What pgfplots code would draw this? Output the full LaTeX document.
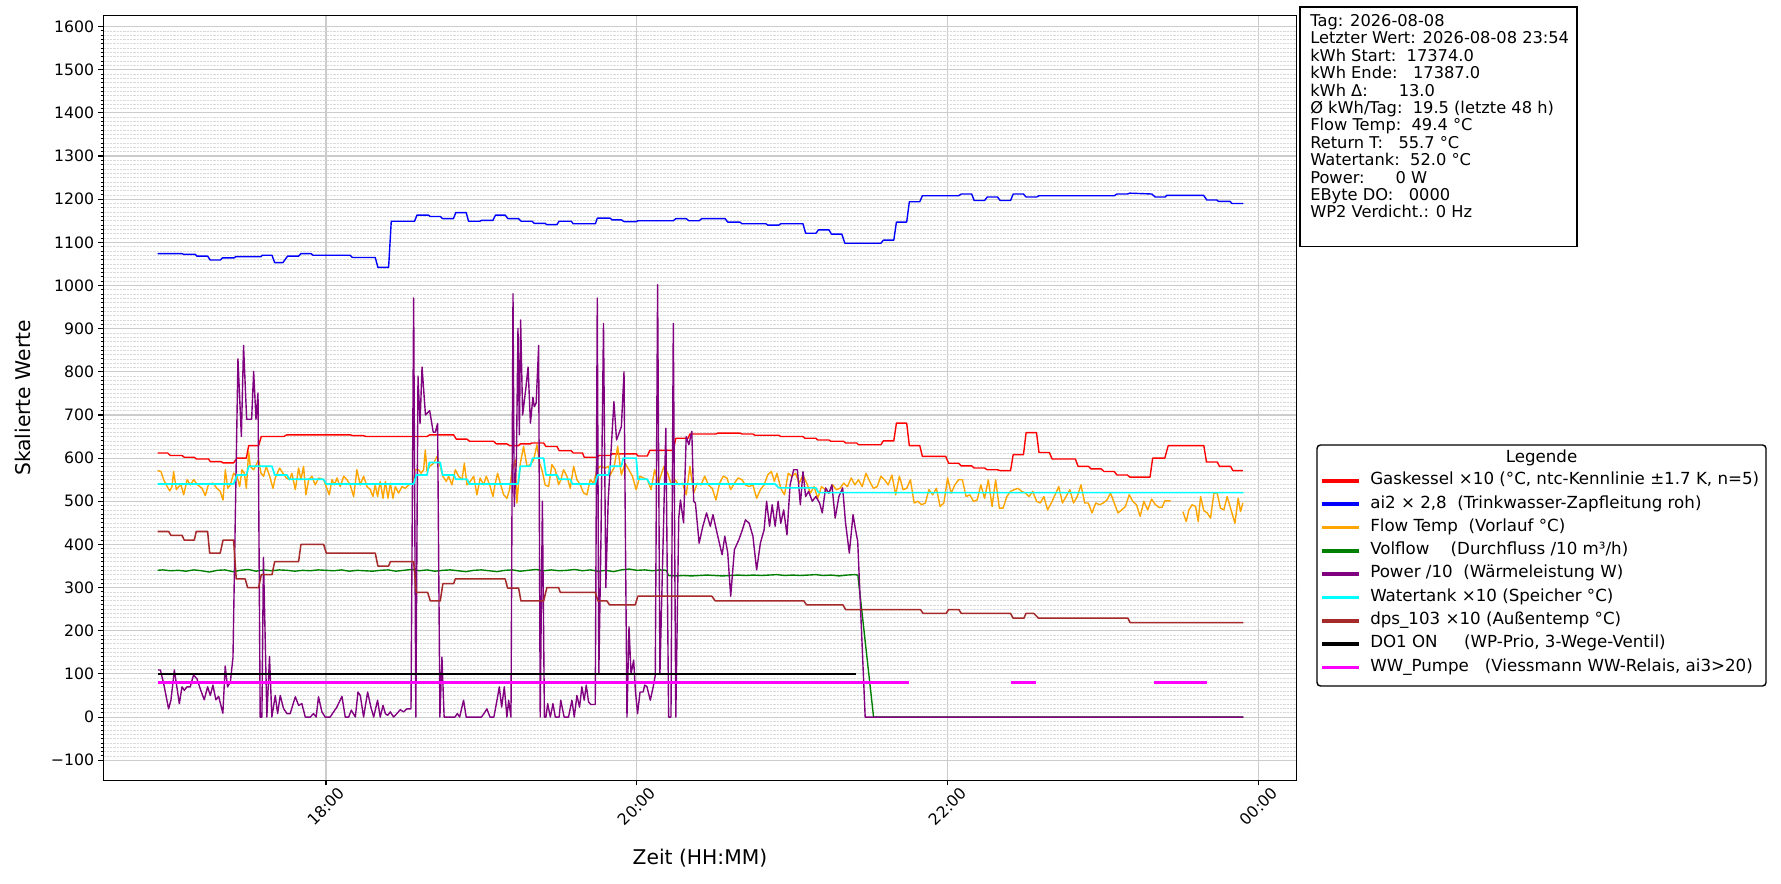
\documentclass[border=0pt]{standalone}
\usepackage{fontspec}
\setmainfont{DejaVu Sans}
\usepackage{pgfplots}
\pgfplotsset{compat=1.18}
\definecolor{cRed}{RGB}{255,0,0}
\definecolor{cBlue}{RGB}{0,0,255}
\definecolor{cOrange}{RGB}{255,165,0}
\definecolor{cGreen}{RGB}{0,128,0}
\definecolor{cPurple}{RGB}{128,0,128}
\definecolor{cCyan}{RGB}{0,255,255}
\definecolor{cBrown}{RGB}{165,42,42}
\definecolor{cMag}{RGB}{255,0,255}
\definecolor{gridmaj}{RGB}{204,204,204}
\definecolor{gridmin}{RGB}{218,218,218}
\begin{document}
\begin{tikzpicture}
\useasboundingbox (0,0) rectangle (1282.32pt,636.48pt);
\begin{axis}[
  at={(74.38pt,74.52pt)}, anchor=south west,
  width=859.2pt, height=550.9pt, scale only axis,
  xmin=16.568, xmax=24.243, ymin=-147, ymax=1626,
  xtick={18,20,22,24}, xticklabels={18:00,20:00,22:00,00:00},
  ytick={-100,0,...,1600},
  yticklabels={−100,0,100,200,300,400,500,600,700,800,900,1000,1100,1200,1300,1400,1500,1600},
  minor y tick num=9,
  xmajorgrids, ymajorgrids, yminorgrids,
  major grid style={color=gridmaj, line width=0.8pt},
  minor grid style={color=gridmin, line width=0.5pt, dash pattern=on 1.6pt off 0.8pt},
  tick pos=left, tick align=outside,
  major tick length=3.5pt, minor tick length=2pt,
  every tick/.style={black, line width=0.8pt},
  minor tick style={line width=0.6pt},
  axis line style={black, line width=1pt},
  tick label style={font=\fontsize{11.3}{13}\selectfont},
  yticklabel style={anchor=east, inner sep=0pt, xshift=-3pt},
  xticklabel style={yshift=-15pt, rotate=45, anchor=center, inner sep=0pt},
  xlabel={Zeit (HH:MM)}, ylabel={Skalierte Werte},
  label style={font=\fontsize{14.6}{17}\selectfont},
  xlabel style={at={(axis description cs:0.5,-0.1013)}, anchor=center},
  ylabel style={at={(axis description cs:-0.067,0.5)}, anchor=center, rotate=0},
  unbounded coords=jump,
  every axis plot/.append style={line join=round},
]
% Gaskessel
\addplot[cRed, line width=1pt] coordinates {
(16.917,612)(16.982,612)(16.999,606)(17.074,606)(17.089,602)(17.153,602)(17.166,598)(17.245,598)(17.256,592)(17.325,592)(17.338,589)(17.406,589)(17.428,600)(17.488,600)(17.503,629)(17.567,629)(17.584,650)(17.728,650)(17.749,654)(18.156,654)(18.174,652)(18.242,652)(18.259,650)(18.65,650)(18.667,654)(18.821,654)(18.838,644)(18.907,644)(18.924,639)(19.078,639)(19.095,633)(19.164,633)(19.181,629)(19.239,629)(19.25,633)(19.314,633)(19.325,635)(19.4,635)(19.415,627)(19.486,627)(19.5,617)(19.578,617)(19.59,612)(19.65,612)(19.661,602)(19.745,602)(19.757,606)(19.828,606)(19.84,610)(19.995,610)(20.007,605)(20.067,605)(20.083,618)(20.234,618)(20.25,646)(20.329,646)(20.341,656)(20.508,656)(20.52,658)(20.663,658)(20.675,656)(20.746,656)(20.758,653)(20.913,653)(20.925,650)(21.068,650)(21.08,646)(21.151,646)(21.163,642)(21.235,642)(21.247,639)(21.33,639)(21.342,635)(21.414,635)(21.425,631)(21.569,631)(21.585,640)(21.652,640)(21.669,681)(21.735,681)(21.752,629)(21.819,629)(21.836,604)(21.986,604)(22.005,588)(22.069,588)(22.086,582)(22.153,582)(22.169,577)(22.236,577)(22.253,573)(22.319,573)(22.336,571)(22.403,571)(22.42,608)(22.486,608)(22.503,659)(22.57,659)(22.586,613)(22.653,613)(22.67,598)(22.82,598)(22.837,581)(22.904,581)(22.92,575)(22.987,575)(23.004,569)(23.07,569)(23.087,561)(23.154,561)(23.17,556)(23.3,556)(23.317,600)(23.395,600)(23.417,629)(23.646,629)(23.663,591)(23.732,591)(23.747,581)(23.818,581)(23.833,571)(23.897,571)};
% ai2
\addplot[cBlue, line width=1pt] coordinates {
(16.917,1074)(17.074,1074)(17.085,1072)(17.16,1072)(17.17,1068)(17.239,1068)(17.256,1059)(17.32,1059)(17.335,1064)(17.41,1064)(17.42,1067)(17.582,1067)(17.59,1070)(17.653,1070)(17.67,1053)(17.723,1053)(17.753,1068)(17.824,1068)(17.839,1074)(17.904,1074)(17.917,1070)(18.156,1070)(18.17,1065)(18.317,1065)(18.334,1042)(18.403,1042)(18.42,1149)(18.57,1149)(18.585,1163)(18.66,1163)(18.67,1160)(18.735,1160)(18.75,1155)(18.82,1155)(18.835,1169)(18.902,1169)(18.917,1149)(18.99,1149)(19.0,1151)(19.074,1151)(19.09,1163)(19.153,1163)(19.17,1155)(19.239,1155)(19.255,1149)(19.325,1149)(19.34,1144)(19.41,1144)(19.42,1141)(19.485,1141)(19.5,1149)(19.578,1149)(19.59,1143)(19.733,1143)(19.745,1156)(19.828,1156)(19.84,1152)(19.9,1152)(19.917,1148)(19.995,1148)(20.007,1150)(20.234,1150)(20.25,1155)(20.317,1155)(20.334,1150)(20.4,1150)(20.417,1155)(20.567,1155)(20.584,1147)(20.663,1147)(20.675,1143)(20.83,1143)(20.841,1140)(20.913,1140)(20.925,1143)(21.068,1143)(21.085,1121)(21.151,1121)(21.168,1129)(21.235,1129)(21.251,1119)(21.318,1119)(21.337,1098)(21.569,1098)(21.585,1105)(21.652,1105)(21.669,1147)(21.735,1147)(21.752,1194)(21.819,1194)(21.836,1208)(22.069,1208)(22.086,1212)(22.153,1212)(22.169,1197)(22.236,1197)(22.253,1205)(22.319,1205)(22.336,1197)(22.403,1197)(22.42,1212)(22.486,1212)(22.503,1205)(22.57,1205)(22.586,1208)(23.07,1208)(23.087,1212)(23.154,1212)(23.17,1214)(23.312,1212)(23.333,1205)(23.397,1205)(23.408,1209)(23.644,1209)(23.666,1198)(23.73,1198)(23.74,1195)(23.815,1195)(23.826,1190)(23.9,1190)};
% Flow Temp
\addplot[cOrange, line width=1pt] coordinates {
(16.917,571)(16.939,569)(16.956,550)(16.973,538)(16.995,524)(17.010,534)(17.020,569)(17.038,527)(17.053,534)(17.068,538)(17.085,515)(17.107,550)(17.128,538)(17.149,550)(17.175,538)(17.203,530)(17.224,513)(17.245,540)(17.273,542)(17.299,530)(17.320,523)(17.338,503)(17.353,573)(17.368,530)(17.385,538)(17.406,565)(17.428,558)(17.445,534)(17.460,573)(17.475,565)(17.488,530)(17.503,615)(17.513,581)(17.535,573)(17.552,585)(17.567,596)(17.582,565)(17.599,558)(17.616,581)(17.638,558)(17.659,530)(17.674,554)(17.702,577)(17.723,565)(17.745,554)(17.766,550)(17.781,565)(17.803,527)(17.824,577)(17.839,550)(17.856,581)(17.871,515)(17.889,550)(17.910,558)(17.931,538)(17.953,554)(17.985,550)(18.006,530)(18.021,515)(18.039,550)(18.056,538)(18.071,554)(18.092,534)(18.114,558)(18.135,550)(18.156,538)(18.178,511)(18.199,573)(18.221,538)(18.242,558)(18.264,534)(18.285,527)(18.302,511)(18.317,538)(18.332,511)(18.349,546)(18.367,507)(18.382,546)(18.399,507)(18.414,542)(18.431,507)(18.446,534)(18.467,519)(18.489,534)(18.510,530)(18.532,538)(18.559,542)(18.574,573)(18.596,573)(18.611,565)(18.628,573)(18.639,619)(18.650,569)(18.667,581)(18.692,588)(18.714,604)(18.735,581)(18.752,558)(18.774,546)(18.789,558)(18.810,538)(18.832,573)(18.853,558)(18.875,550)(18.890,588)(18.907,538)(18.928,546)(18.950,558)(18.971,515)(18.992,554)(19.014,538)(19.031,558)(19.053,538)(19.074,511)(19.089,542)(19.104,565)(19.121,542)(19.143,515)(19.164,507)(19.181,527)(19.196,569)(19.218,596)(19.228,496)(19.250,588)(19.271,627)(19.293,581)(19.314,585)(19.336,596)(19.357,631)(19.374,588)(19.389,573)(19.410,538)(19.432,534)(19.453,585)(19.475,573)(19.496,538)(19.511,550)(19.528,573)(19.550,558)(19.571,530)(19.593,581)(19.614,550)(19.636,538)(19.657,519)(19.678,515)(19.700,550)(19.721,542)(19.743,573)(19.764,581)(19.796,577)(19.818,581)
(19.828,561)(19.852,577)(19.876,627)(19.900,561)(19.924,588)(19.948,573)(19.971,558)(19.995,527)(20.019,558)(20.043,554)(20.067,550)(20.091,527)(20.114,573)(20.138,542)(20.174,581)(20.198,565)(20.222,538)(20.246,550)(20.269,538)(20.293,542)(20.317,515)(20.341,581)(20.365,519)(20.389,542)(20.412,538)(20.436,558)(20.460,538)(20.484,530)(20.508,503)(20.532,542)(20.555,558)(20.579,554)(20.603,527)(20.627,542)(20.651,554)(20.675,550)(20.698,538)(20.722,534)(20.746,538)(20.770,507)(20.794,527)(20.818,538)(20.841,561)(20.865,569)(20.884,546)(20.901,565)(20.925,530)(20.949,515)(20.973,565)(20.996,558)(21.020,565)(21.044,542)(21.068,561)(21.092,542)(21.116,519)(21.139,534)(21.163,507)(21.187,534)(21.211,527)(21.235,519)(21.259,538)(21.282,527)(21.306,530)(21.330,542)(21.354,534)(21.378,554)(21.402,538)(21.425,550)(21.449,534)(21.473,565)(21.497,546)(21.521,530)(21.545,534)(21.569,558)(21.592,550)(21.616,538)(21.640,561)(21.664,515)(21.688,558)(21.712,527)(21.735,530)(21.759,550)(21.783,496)(21.807,500)(21.831,492)(21.855,496)(21.878,527)(21.902,515)(21.926,530)(21.950,488)(21.974,496)(21.998,554)(22.021,519)(22.045,538)(22.069,550)(22.093,550)(22.117,511)(22.141,515)(22.165,500)(22.188,503)(22.212,538)(22.236,507)(22.260,550)(22.284,488)(22.307,550)(22.331,484)(22.355,484)(22.379,511)(22.403,523)(22.427,527)(22.451,530)(22.474,523)(22.498,519)(22.522,511)(22.546,523)(22.570,500)(22.594,496)(22.617,511)(22.641,480)(22.665,496)(22.689,515)(22.713,534)(22.737,496)(22.760,511)(22.784,527)(22.808,496)(22.832,511)(22.856,538)(22.880,496)(22.903,496)(22.927,473)(22.951,496)(22.975,492)(22.999,496)(23.023,503)(23.046,519)(23.070,496)(23.094,473)(23.118,480)(23.142,488)(23.166,515)(23.189,500)(23.213,492)(23.237,465)(23.26,500)(23.285,480)(23.31,505)(23.335,492)(23.357,486)(23.378,486)(23.395,501)(23.432,501)(23.47,nan)(23.511,476)(23.533,453)(23.550,480)(23.571,492)(23.593,488)(23.610,453)(23.625,511)(23.646,478)(23.668,473)(23.689,461)(23.711,519)(23.732,519)(23.753,484)(23.775,480)(23.796,511)(23.818,484)(23.846,449)(23.867,507)(23.882,476)(23.897,496)};
% Volflow
\addplot[cGreen, line width=1pt] coordinates {
(16.917,340)(16.95,341)(17.0,339)(17.05,340)(17.1,338)(17.15,341)(17.2,339)(17.25,336)(17.3,340)(17.35,341)(17.4,337)(17.45,340)(17.5,342)(17.55,338)(17.6,341)(17.65,339)(17.7,341)(17.75,340)(17.8,338)(17.85,340)(17.9,339)(17.95,341)(18.0,340)(18.05,339)(18.1,341)(18.15,338)(18.2,340)(18.25,339)(18.3,338)(18.35,340)(18.4,341)(18.45,338)(18.5,340)(18.55,342)(18.6,339)(18.65,341)(18.7,338)(18.75,340)(18.8,341)(18.85,339)(18.9,337)(18.95,340)(19.0,341)(19.05,339)(19.1,337)(19.15,340)(19.2,341)(19.25,338)(19.3,340)(19.35,342)(19.4,339)(19.45,341)(19.5,339)(19.55,340)(19.6,342)(19.65,339)(19.7,341)(19.75,338)(19.8,340)(19.85,337)(19.9,341)(19.95,343)(20.0,340)(20.05,341)(20.1,339)(20.15,341)(20.19,340)(20.203,328)(20.25,327)(20.3,328)(20.35,327)(20.4,328)(20.45,329)(20.5,328)(20.55,327)(20.6,328)(20.65,329)(20.7,328)(20.75,329)(20.8,328)(20.85,329)(20.9,330)(20.95,328)(21.0,329)(21.05,328)(21.1,329)(21.15,330)(21.2,328)(21.25,329)(21.3,327)(21.35,329)(21.4,330)(21.421,329)(21.522,0)(23.9,0)};
% Power
\addplot[cPurple, line width=1pt] coordinates {
(16.92,109)(16.935,109)(16.956,78)(16.988,19)(17.003,39)(17.025,109)(17.057,31)(17.074,70)(17.089,62)(17.106,70)(17.127,70)(17.148,97)(17.17,89)(17.191,66)(17.217,40)(17.239,70)(17.256,50)(17.273,74)(17.292,40)(17.31,48)(17.337,9)(17.352,118)(17.367,70)(17.385,81)(17.402,138)(17.434,830)(17.456,650)(17.47,861)(17.49,690)(17.522,690)(17.535,801)(17.55,690)(17.563,751)(17.577,0)(17.588,0)(17.598,370)(17.62,0)(17.637,140)(17.652,0)(17.674,50)(17.689,8)(17.706,50)(17.727,20)(17.749,8)(17.77,8)(17.803,47)(17.824,27)(17.845,31)(17.867,0)(17.899,0)(17.92,8)(17.937,0)(17.952,47)(17.974,12)(17.995,0)(18.027,0)(18.07,23)(18.103,48)(18.124,0)(18.146,0)(18.163,16)(18.189,0)(18.206,58)(18.221,50)(18.242,0)(18.268,58)(18.289,23)(18.307,0)(18.332,39)(18.349,0)(18.367,27)(18.382,8)(18.397,4)(18.414,12)(18.435,0)(18.456,8)(18.478,17)(18.499,12)(18.521,19)(18.547,19)(18.564,971)(18.578,0)(18.592,790)(18.605,680)(18.618,811)(18.64,700)(18.667,710)(18.69,660)(18.703,660)(18.718,680)(18.733,0)(18.746,139)(18.76,0)(18.79,0)(18.83,0)(18.845,8)(18.86,0)(18.885,39)(18.902,0)(18.95,0)(19.0,0)(19.018,9)(19.035,19)(19.055,0)(19.08,0)(19.1,39)(19.115,70)(19.13,23)(19.147,70)(19.164,0)(19.175,39)(19.19,0)(19.203,981)(19.211,488)(19.225,600)(19.235,901)(19.244,654)(19.252,920)(19.265,700)(19.285,760)(19.3,811)(19.315,681)(19.331,741)(19.34,719)(19.352,728)(19.368,861)(19.378,0)(19.392,500)(19.405,0)(19.415,0)(19.426,31)(19.443,0)(19.46,31)(19.475,0)(19.5,0)(19.51,39)(19.532,0)(19.56,0)(19.582,39)(19.597,0)(19.614,50)(19.631,23)(19.646,70)(19.661,39)(19.674,74)(19.689,35)(19.704,29)(19.732,29)(19.745,971)(19.755,100)(19.769,419)(19.785,912)(19.8,300)(19.815,500)(19.852,731)(19.869,642)(19.9,673)(19.917,800)(19.936,0)(19.949,209)(19.962,100)(19.979,132)(19.99,62)(20.004,8)(20.02,58)(20.04,58)(20.05,74)(20.064,71)(20.086,39)(20.107,74)(20.118,97)(20.133,1002)(20.148,100)(20.186,669)(20.204,0)(20.219,0)(20.234,912)(20.25,0)(20.269,461)(20.28,503)(20.3,450)(20.317,650)(20.334,631)(20.353,662)(20.365,500)(20.376,496)(20.4,403)(20.424,442)(20.448,473)(20.472,442)(20.489,469)(20.52,419)(20.548,376)(20.565,419)(20.584,381)(20.603,280)(20.627,388)(20.656,411)(20.682,438)(20.698,457)(20.722,449)(20.746,419)(20.77,341)(20.794,403)(20.818,434)(20.834,500)(20.853,442)(20.87,492)(20.889,442)(20.908,500)(20.925,449)(20.944,480)(20.965,422)(20.985,538)(21.008,573)(21.032,573)(21.051,492)(21.068,569)(21.085,511)(21.104,523)(21.128,500)(21.151,511)(21.175,496)(21.192,473)(21.213,531)(21.235,519)(21.254,538)(21.275,461)(21.299,511)(21.323,531)(21.342,449)(21.366,380)(21.39,469)(21.406,434)(21.42,407)(21.468,0)(23.9,0)};
% Watertank
\addplot[cCyan, line width=1.2pt] coordinates {
(16.917,540)(17.406,540)(17.428,561)(17.488,561)(17.503,581)(17.653,581)(17.67,561)(17.749,561)(17.764,551)(17.985,551)(18.002,540)(18.564,540)(18.581,561)(18.65,561)(18.665,590)(18.735,590)(18.75,561)(18.821,561)(18.836,551)(18.907,551)(18.922,540)(19.235,540)(19.25,581)(19.314,581)(19.329,600)(19.4,600)(19.415,561)(19.486,561)(19.5,551)(19.571,551)(19.586,540)(19.732,540)(19.747,561)(19.816,561)(19.828,581)(19.9,581)(19.912,600)(19.995,600)(20.007,551)(20.067,551)(20.083,540)(20.889,540)(20.913,531)(21.151,531)(21.168,520)(23.9,520)};
% dps_103
\addplot[cBrown, line width=1.1pt] coordinates {
(16.917,430)(16.988,430)(17.003,421)(17.074,421)(17.089,410)(17.153,410)(17.166,430)(17.239,430)(17.252,380)(17.32,380)(17.338,410)(17.406,410)(17.423,320)(17.481,320)(17.496,300)(17.567,300)(17.584,330)(17.653,330)(17.67,360)(17.824,360)(17.839,400)(17.985,400)(18.002,380)(18.317,380)(18.334,350)(18.403,350)(18.414,360)(18.564,360)(18.581,289)(18.654,289)(18.671,269)(18.735,269)(18.752,309)(18.821,309)(18.832,320)(19.153,320)(19.168,299)(19.239,299)(19.254,269)(19.4,269)(19.421,300)(19.496,300)(19.507,289)(19.732,289)(19.749,269)(19.807,269)(19.824,260)(19.989,260)(20.006,280)(20.482,280)(20.504,269)(21.074,269)(21.091,260)(21.325,260)(21.342,249)(21.824,249)(21.841,240)(21.989,240)(22.004,249)(22.071,249)(22.086,240)(22.403,240)(22.42,229)(22.489,229)(22.502,240)(22.553,240)(22.583,229)(23.158,229)(23.172,219)(23.9,219)};
% DO1
\addplot[black, line width=1.5pt] coordinates {(16.917,100)(21.41,100)};
% WW_Pumpe
\addplot[cMag, line width=2.5pt] coordinates {(16.917,80)(21.749,80)(22.0,nan)(22.407,80)(22.568,80)(23.0,nan)(23.325,80)(23.668,80)};
\end{axis}
\begin{scope}[x=0.72pt,y=-0.72pt,shift={(0pt,636.48pt)}]
% info box
\draw[black, line width=1.2pt, fill=white] (1300,6.7) rectangle (1577,246.5);
\begin{scope}[every node/.style={anchor=base west, inner sep=0pt, font=\fontsize{11.7}{13}\selectfont}]
\node at (1310,26.5) {Tag: 2026-08-08};
\node at (1310,43.9) {Letzter Wert: 2026-08-08 23:54};
\node at (1310,61.3) {kWh Start:~~17374.0};
\node at (1310,78.7) {kWh Ende:~~~17387.0};
\node at (1310,96.1) {kWh Δ:~~~~~~13.0};
\node at (1310,113.5) {Ø kWh/Tag:~~19.5 (letzte 48 h)};
\node at (1310,130.9) {Flow Temp:~~49.4 °C};
\node at (1310,148.3) {Return T:~~~55.7 °C};
\node at (1310,165.7) {Watertank:~~52.0 °C};
\node at (1310,183.1) {Power:~~~~~~0 W};
\node at (1310,200.5) {EByte DO:~~~0000};
\node at (1310,217.9) {WP2 Verdicht.: 0 Hz};
\end{scope}
% legend
\draw[black, line width=1pt, fill=white, rounded corners=2.5pt] (1317,445) rectangle (1766,686);
\node[anchor=mid, inner sep=0pt, font=\fontsize{12}{14}\selectfont] at (1541.5,458.5) {Legende};
\begin{scope}[every node/.style={anchor=mid west, inner sep=0pt, font=\fontsize{12}{14}\selectfont}]
\draw[cRed, line width=2.6pt] (1322,481.0) -- (1359,481.0);
\node at (1370,481.0) {Gaskessel ×10 (°C, ntc-Kennlinie ±1.7 K, n=5)};
\draw[cBlue, line width=2.6pt] (1322,504.3) -- (1359,504.3);
\node at (1370,504.3) {ai2 × 2,8~~(Trinkwasser-Zapfleitung roh)};
\draw[cOrange, line width=2.6pt] (1322,527.6) -- (1359,527.6);
\node at (1370,527.6) {Flow Temp~~(Vorlauf °C)};
\draw[cGreen, line width=2.6pt] (1322,550.9) -- (1359,550.9);
\node at (1370,550.9) {Volflow~~~~(Durchfluss /10 m³/h)};
\draw[cPurple, line width=2.6pt] (1322,574.2) -- (1359,574.2);
\node at (1370,574.2) {Power /10~~(Wärmeleistung W)};
\draw[cCyan, line width=2.6pt] (1322,597.5) -- (1359,597.5);
\node at (1370,597.5) {Watertank ×10 (Speicher °C)};
\draw[cBrown, line width=2.6pt] (1322,620.8) -- (1359,620.8);
\node at (1370,620.8) {dps\_103 ×10 (Außentemp °C)};
\draw[black, line width=2.6pt] (1322,644.1) -- (1359,644.1);
\node at (1370,644.1) {DO1 ON~~~~~(WP-Prio, 3-Wege-Ventil)};
\draw[cMag, line width=2.6pt] (1322,667.4) -- (1359,667.4);
\node at (1370,667.4) {WW\_Pumpe~~~(Viessmann WW-Relais, ai3>20)};
\end{scope}
\end{scope}
\end{tikzpicture}
\end{document}
